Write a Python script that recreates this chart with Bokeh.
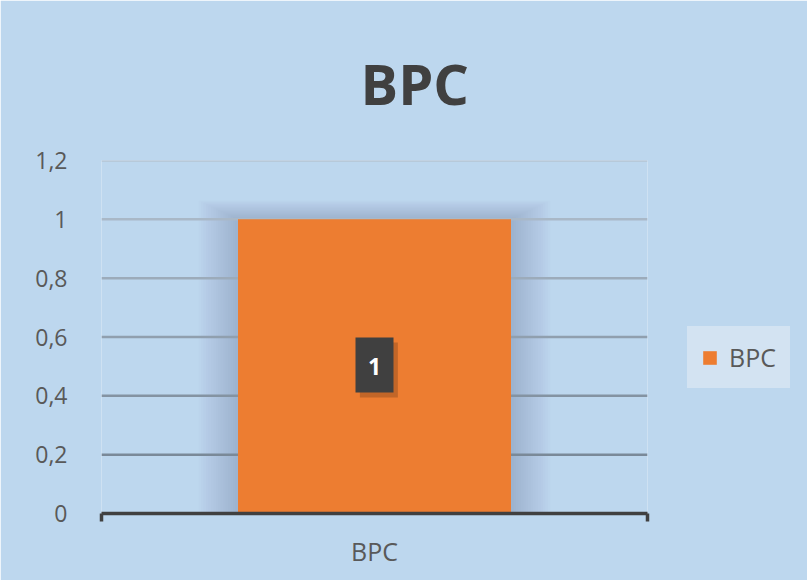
from bokeh.plotting import figure
from bokeh.models import (FixedTicker, CustomJSTickFormatter, Legend, LegendItem,
                          Range1d, Title)
from bokeh.core.properties import value
from bokeh.embed import file_html
from bokeh.resources import INLINE

# ---- data ----
categories = ["BPC"]
values = [1]
series_name = "BPC"
y_ticks = [0, 0.2, 0.4, 0.6, 0.8, 1.0, 1.2]

BG = "#BDD7EE"
BAR = "#ED7D31"
TXT = "#595959"
FONT = "Open Sans"
LEG_BG = "#D3E3F2"

p = figure(output_backend="svg", toolbar_location=None,
           frame_width=546, frame_height=353,
           min_border_left=101, min_border_right=152,
           min_border_top=160, min_border_bottom=67,
           x_range=Range1d(0, len(categories)), y_range=Range1d(0, 1.2))
p.background_fill_color = BG
p.border_fill_color = BG
p.outline_line_color = None
p.grid.visible = False

xs = [i + 0.5 for i in range(len(categories))]

# soft glow / shadow around bar
for k in range(16, 0, -1):
    p.vbar(x=xs, top=[v + 0.004 * k for v in values], width=0.5 + 0.009 * k,
           color="#4f6f92", alpha=0.02, line_color=None)

# gridlines (graded colours like the reference)
grid_cols = ["#7A8998", "#8493A2", "#909FAE", "#9CABBA", "#A9B8C7", "#B6C4D2"]
gy = [t for t in y_ticks if t > 0]
p.segment(x0=[0] * len(gy), x1=[len(categories)] * len(gy), y0=gy, y1=gy,
          line_color=grid_cols, line_width=2.5)

bars = p.vbar(x=xs, top=values, width=0.5, color=BAR, line_color=None)

# data label box
p.rect(x=[x + 0.008 for x in xs], y=[v / 2 - 0.012 for v in values], width=38, height=55,
       width_units="screen", height_units="screen", color="#000000", alpha=0.18,
       line_color=None)
p.rect(x=xs, y=[v / 2 + 0.005 for v in values], width=38, height=55,
       width_units="screen", height_units="screen", color="#404040", line_color=None)
p.text(x=xs, y=[v / 2 for v in values], text=[f"{v:g}" for v in values],
       text_color="white", text_font=value(FONT), text_font_style="bold",
       text_font_size="23px", text_align="center", text_baseline="middle")

# axes
p.xaxis.ticker = FixedTicker(ticks=xs, minor_ticks=list(range(len(categories) + 1)))
p.xaxis.major_label_overrides = {x: c for x, c in zip(xs, categories)}
p.xaxis.major_tick_line_color = None
p.xaxis.axis_line_color = "#404040"
p.xaxis.axis_line_width = 3.5
p.xaxis.minor_tick_line_color = "#404040"
p.xaxis.minor_tick_line_width = 3.5
p.xaxis.minor_tick_out = 8
p.xaxis.minor_tick_in = 0
p.xaxis.major_label_standoff = 12
p.xaxis.major_label_text_font = FONT
p.xaxis.major_label_text_font_size = "25px"
p.xaxis.major_label_text_color = TXT

p.yaxis.ticker = FixedTicker(ticks=y_ticks)
p.yaxis.formatter = CustomJSTickFormatter(
    code="return (Math.round(tick*10)/10).toString().replace('.', ',');")
p.yaxis.axis_line_color = None
p.yaxis.major_tick_line_color = None
p.yaxis.minor_tick_line_color = None
p.yaxis.major_label_standoff = 28
p.yaxis.major_label_text_font = FONT
p.yaxis.major_label_text_font_size = "23px"
p.yaxis.major_label_text_color = TXT

# title
p.title = Title(text=series_name, align="left", offset=259, standoff=79,
                text_font=FONT, text_font_size="56px", text_font_style="bold",
                text_color="#404040")

# legend
legend = Legend(items=[LegendItem(label=series_name, renderers=[bars])],
                location=(40, 125), background_fill_color=LEG_BG,
                background_fill_alpha=1, border_line_color=LEG_BG,
                border_line_width=1,
                label_text_font=FONT, label_text_font_size="25px",
                label_text_color=TXT, glyph_width=17, glyph_height=17,
                label_height=28, padding=13, margin=10, label_standoff=11)
p.add_layout(legend, "right")

open("out.html", "w").write(file_html(p, INLINE))
